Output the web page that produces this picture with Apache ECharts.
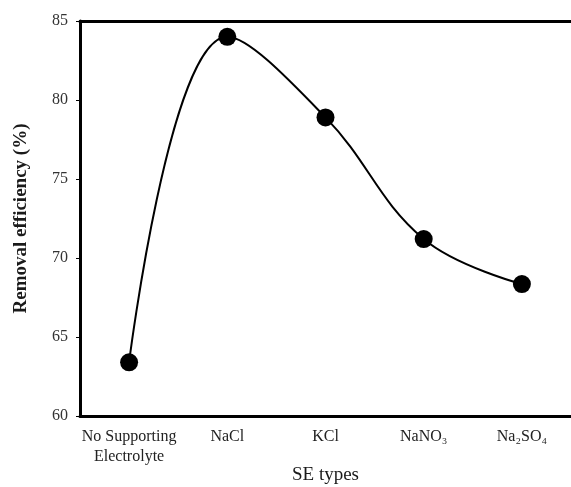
<!DOCTYPE html>
<html><head><meta charset="utf-8">
<script src="https://cdn.jsdelivr.net/npm/echarts@6/dist/echarts.min.js"></script>
<style>html,body{margin:0;padding:0;background:#fff}#c{width:571px;height:487px}</style>
</head><body><div id="c"></div>
<script>
const categories = ['No Supporting\nElectrolyte', 'NaCl', 'KCl', 'NaNO\u2083', 'Na\u2082SO\u2084'];
const removalEfficiency = [63.4, 84.0, 78.9, 71.2, 68.35];
const yTicks = {min: 60, max: 85, interval: 5};
const font = 'Liberation Serif';
const chart = echarts.init(document.getElementById('c'));
chart.setOption({
  animation: false,
  grid: {left: 80, right: 0, top: 21, bottom: 71, outerBoundsMode: 'none', containLabel: false},
  xAxis: [{
    type: 'category', data: categories, boundaryGap: true,
    name: 'SE types', nameLocation: 'middle', nameGap: 50, nameMoveOverlap: false,
    nameTextStyle: {fontFamily: font, fontSize: 19, color: '#1a1a1a'},
    axisLine: {lineStyle: {color: '#000', width: 3}},
    axisTick: {show: false},
    axisLabel: {fontFamily: font, fontSize: 16, color: '#222', margin: 11, lineHeight: 20, interval: 0}
  }, {
    type: 'category', data: categories, position: 'top',
    axisLine: {lineStyle: {color: '#000', width: 3}},
    axisTick: {show: false}, axisLabel: {show: false}
  }],
  yAxis: {
    type: 'value', min: yTicks.min, max: yTicks.max, interval: yTicks.interval,
    name: 'Removal efficiency (%)', nameLocation: 'middle', nameGap: 49, nameMoveOverlap: false,
    nameTextStyle: {fontFamily: font, fontSize: 19, fontWeight: 'bold', color: '#1a1a1a'},
    axisLine: {show: true, lineStyle: {color: '#000', width: 3}},
    axisTick: {show: true, length: 4, lineStyle: {color: '#000', width: 1}},
    axisLabel: {fontFamily: font, fontSize: 16, color: '#333', margin: 12},
    splitLine: {show: false}
  },
  series: [{
    type: 'line', data: removalEfficiency, smooth: 0.4,
    symbol: 'circle', symbolSize: 18,
    itemStyle: {color: '#000'},
    lineStyle: {color: '#000', width: 2}
  }]
});
</script></body></html>
